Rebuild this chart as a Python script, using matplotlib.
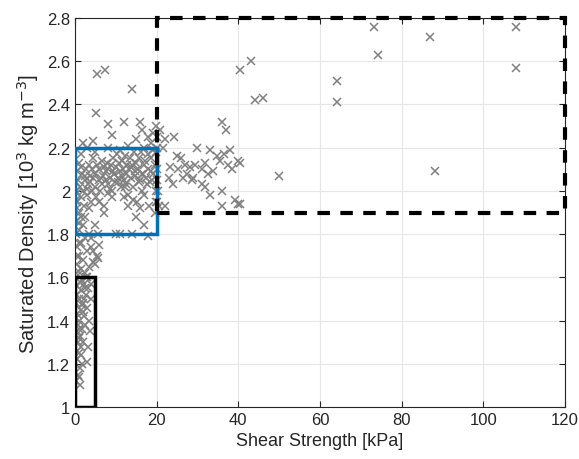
import numpy as np
import matplotlib.pyplot as plt
from matplotlib.patches import Rectangle
from matplotlib.ticker import FormatStrFormatter

plt.rcParams['font.family'] = ['Liberation Sans', 'DejaVu Sans']

# low-strength column (x < 6 kPa, y < 1.85)
col_x = [0.3, 0.8, 1.2, 0.5, 1.0, 1.5, 0.7, 2.0, 1.2, 0.4, 1.8, 2.5, 1.0, 3.5, 2.2, 0.6,
         1.5, 3.0, 2.0, 0.9, 4.0, 2.7, 1.4, 3.3, 0.5, 2.2, 1.7, 3.0, 0.8, 2.5, 1.5, 3.5,
         0.4, 4.5, 2.0, 1.0, 5.5, 3.0, 0.5, 4.0, 1.5, 6.0, 2.5, 0.3, 1.0, 3.5, 2.0, 0.2,
         1.5, 0.6, 0.3, 5.0, 4.0, 2.5, 3.7, 3.3, 2.9, 1.2, 0.9, 1.6, 0.4, 1.1, 0.7, 1.9,
         0.2, 0.6, 1.3, 0.8, 5.7, 5.7, 4.5, 1.0, 0.5, 2.8, 1.8, 3.9, 0.3, 0.9, 1.4, 2.3]
col_y = [1.12, 1.15, 1.18, 1.22, 1.25, 1.28, 1.30, 1.30, 1.33, 1.35, 1.36, 1.38, 1.40, 1.40, 1.42, 1.43,
         1.45, 1.46, 1.48, 1.50, 1.50, 1.52, 1.54, 1.55, 1.56, 1.57, 1.59, 1.60, 1.61, 1.62, 1.64, 1.65,
         1.66, 1.67, 1.68, 1.70, 1.70, 1.72, 1.74, 1.74, 1.76, 1.75, 1.78, 1.80, 1.82, 1.80, 1.84, 1.86,
         1.88, 1.92, 1.96, 1.66, 1.78, 1.55, 1.35, 1.28, 1.21, 1.10, 1.14, 1.20, 1.26, 1.32, 1.38, 1.44,
         1.48, 1.52, 1.58, 1.63, 1.69, 1.80, 1.72, 1.76, 1.70, 1.60, 1.47, 1.57, 1.41, 1.36, 1.24, 1.50]

# dense cluster (0-21 kPa, 1.8-2.35)
clu_x = [0.3, 0.5, 0.8, 1.0, 1.2, 1.5, 1.8, 2.0, 2.2, 2.5, 2.8, 3.0, 3.2, 3.5, 3.8, 4.0,
         4.2, 4.5, 4.8, 5.0, 5.2, 5.5, 5.8, 6.0, 6.2, 6.5, 6.8, 7.0, 7.2, 7.5, 7.8, 8.0,
         8.2, 8.5, 8.8, 9.0, 9.2, 9.5, 9.8, 10.0, 10.2, 10.5, 10.8, 11.0, 11.2, 11.5, 11.8, 12.0,
         12.2, 12.5, 12.8, 13.0, 13.2, 13.5, 13.8, 14.0, 14.2, 14.5, 14.8, 15.0, 15.2, 15.5, 15.8, 16.0,
         16.2, 16.5, 16.8, 17.0, 17.2, 17.5, 17.8, 18.0, 18.2, 18.5, 18.8, 19.0, 19.2, 19.5, 19.8, 19.8,
         19.6, 19.9, 1.0, 2.5, 3.5, 5.0, 6.0, 7.0, 10.0, 11.0, 12.0, 13.0, 14.0, 15.0, 16.0, 17.0,
         18.0, 9.0, 8.0, 1.5, 3.0, 5.0, 8.0, 11.0, 13.0, 17.0, 2.0, 4.5, 5.1, 8.0, 15.9, 19.8,
         5.4, 7.3, 14.0, 20.0, 20.0, 20.2, 20.0, 20.3, 20.0, 20.5, 20.8, 9.0, 12.0, 15.0, 16.5, 18.0,
         19.0, 18.5, 0.2, 0.6, 1.4, 2.4, 3.6, 4.4, 6.6, 7.6, 8.6, 9.6, 10.6, 11.6, 12.6, 13.6, 14.6, 15.6,
         16.6, 17.6, 18.6, 0.4, 1.1, 2.9, 4.1, 6.3, 9.3, 12.3, 14.3, 16.3, 18.3]
clu_y = [2.00, 1.95, 2.05, 1.90, 2.02, 1.97, 2.08, 2.00, 1.93, 2.05, 2.10, 1.98, 2.03, 2.12, 2.07, 1.95,
         2.10, 2.15, 2.02, 2.08, 1.97, 2.12, 2.05, 2.10, 2.00, 2.14, 2.07, 2.11, 1.93, 2.09, 2.13, 2.03,
         2.10, 2.06, 2.12, 2.00, 2.15, 2.08, 2.04, 2.11, 2.17, 2.06, 2.13, 2.09, 2.02, 2.14, 2.10, 2.05,
         2.16, 2.08, 2.12, 1.98, 2.10, 2.15, 2.06, 2.12, 2.02, 2.18, 2.09, 2.13, 1.95, 2.10, 2.15, 2.05,
         2.18, 2.08, 2.12, 1.98, 2.14, 2.06, 2.17, 2.10, 1.93, 2.15, 2.05, 2.19, 2.08, 2.12, 2.00, 2.18,
         1.90, 1.95, 1.85, 1.88, 1.92, 1.84, 1.95, 1.90, 1.80, 1.80, 1.97, 1.93, 1.80, 1.88, 1.92, 1.84,
         1.79, 1.97, 1.99, 2.17, 2.20, 2.18, 2.20, 2.19, 2.21, 2.20, 2.22, 2.23, 2.36, 2.31, 2.32, 2.30,
         2.54, 2.56, 2.47, 2.25, 2.20, 2.10, 2.05, 2.00, 1.95, 1.93, 2.28, 2.26, 2.32, 2.24, 2.28, 2.25,
         2.27, 2.22, 2.04, 2.09, 2.11, 2.07, 2.04, 2.06, 2.03, 2.05, 2.01, 2.08, 2.04, 2.07, 2.03, 2.11,
         2.07, 2.04, 2.08, 2.03, 2.09, 1.99, 2.13, 2.01, 2.00, 2.06, 2.09, 2.02, 1.96, 2.00, 2.04]

# mid region (20-40 kPa)
mid_x = [35.9, 37.0, 22.0, 24.2, 21.6, 33.0, 38.0, 30.0, 24.9, 27.0, 28.2, 29.4, 31.8, 34.7, 35.5, 40.0,
         38.4, 26.5, 29.0, 24.1, 31.8, 33.0, 35.9, 39.2, 40.0, 35.9, 22.0, 31.0, 33.9, 23.3, 25.2, 27.4,
         28.6, 31.0, 40.4, 50.0, 40.4, 88.2, 36.5, 32.5, 26.0, 23.0, 37.5]
mid_y = [2.32, 2.28, 2.24, 2.25, 2.20, 2.19, 2.19, 2.20, 2.16, 2.12, 2.11, 2.12, 2.13, 2.16, 2.14, 2.14,
         2.10, 2.06, 2.06, 2.03, 2.02, 1.98, 2.00, 1.96, 1.94, 1.93, 1.93, 2.10, 2.09, 2.11, 2.10, 2.08,
         2.05, 2.03, 2.13, 2.07, 1.94, 2.09, 2.17, 2.08, 2.15, 2.06, 2.12]

# sparse high-strength points
hi_x = [40.4, 43.1, 44.1, 46.0, 64.1, 64.1, 73.2, 74.1, 87.0, 108.0, 108.0]
hi_y = [2.56, 2.60, 2.42, 2.43, 2.51, 2.41, 2.76, 2.63, 2.71, 2.76, 2.57]

x = np.concatenate([col_x, clu_x, mid_x, hi_x])
y = np.concatenate([col_y, clu_y, mid_y, hi_y])

fig = plt.figure(figsize=(5.79, 4.6), dpi=100)
ax = fig.add_axes([0.1295, 0.113, 0.8463, 0.8457])

ax.plot(x, y, 'x', color=(0.5, 0.5, 0.5), markersize=6, markeredgewidth=1.1, zorder=2)

ax.add_patch(Rectangle((0, 1), 5, 0.6, fill=False, edgecolor='black', linewidth=2.5, zorder=3))
ax.add_patch(Rectangle((0, 1.8), 20, 0.4, fill=False, edgecolor=(0, 0.447, 0.741), linewidth=2.5, zorder=3))
ax.add_patch(Rectangle((20, 1.9), 100, 0.9, fill=False, edgecolor='black', linewidth=3,
                       linestyle=(0, (3, 2.5)), zorder=3, clip_on=False))

ax.set_xlim(0, 120)
ax.set_ylim(1, 2.8)
ax.set_xticks(np.arange(0, 121, 20))
ax.set_yticks(np.arange(1, 2.81, 0.2))
ax.yaxis.set_major_formatter(FormatStrFormatter('%g'))
ax.grid(True, color=(0.9, 0.9, 0.9), linewidth=0.8)
ax.set_axisbelow(True)
ax.tick_params(direction='in', length=4, colors=(0.15, 0.15, 0.15), labelsize=12,
               top=True, right=True)
for s in ax.spines.values():
    s.set_color((0.15, 0.15, 0.15))
    s.set_linewidth(0.8)

ax.set_xlabel('Shear Strength [kPa]', fontsize=13, color=(0.15, 0.15, 0.15))
ax.set_ylabel('Saturated Density [10$^3$ kg m$^{-3}$]', fontsize=14.5, color=(0.15, 0.15, 0.15))

fig.savefig('out.png', dpi=100)
